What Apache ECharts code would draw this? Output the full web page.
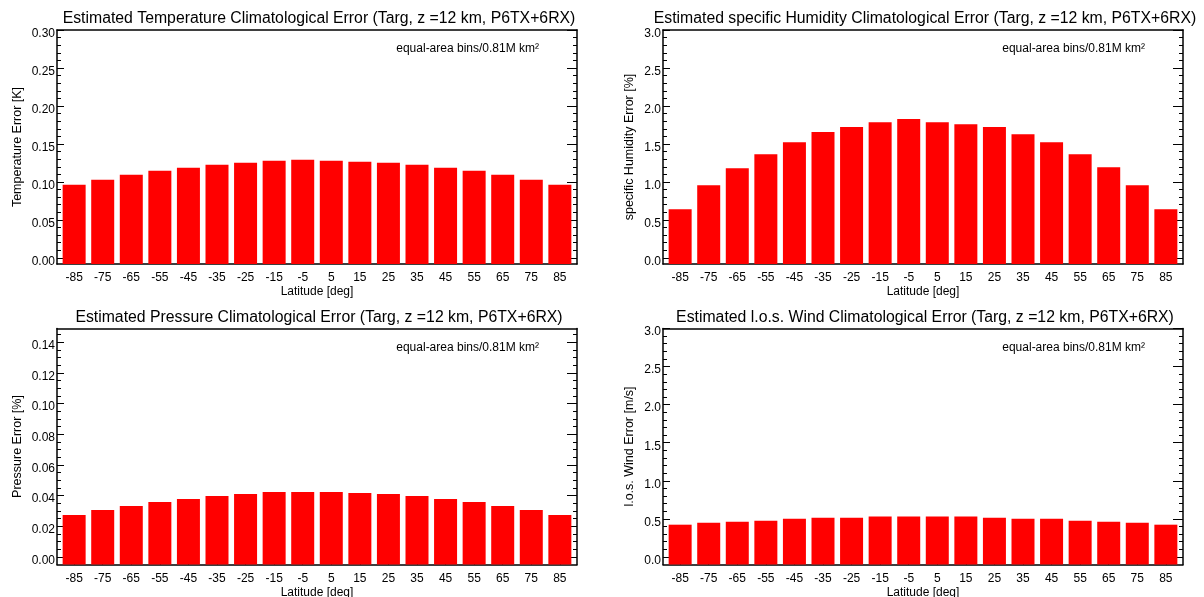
<!DOCTYPE html>
<html>
<head>
<meta charset="utf-8">
<script src="https://cdn.jsdelivr.net/npm/echarts@6/dist/echarts.min.js"></script>
<style>
  html, body { margin: 0; padding: 0; background: #ffffff; }
  #chart { width: 1204px; height: 597px; }
</style>
</head>
<body>
<div id="chart"></div>
<script>
// Latitude bin centres (deg)
const latitudes = [-85, -75, -65, -55, -45, -35, -25, -15, -5, 5, 15, 25, 35, 45, 55, 65, 75, 85];

// Climatological error per equal-area latitude bin
const temperatureError = [0.0962, 0.1028, 0.1094, 0.1147, 0.1187, 0.1226, 0.1253, 0.1279, 0.1292, 0.1279, 0.1266, 0.1253, 0.1226, 0.1187, 0.1147, 0.1094, 0.1028, 0.0962];
const humidityError    = [0.641, 0.957, 1.181, 1.366, 1.524, 1.656, 1.722, 1.787, 1.827, 1.787, 1.761, 1.722, 1.629, 1.524, 1.366, 1.195, 0.957, 0.641];
const pressureError    = [0.0273, 0.0306, 0.0332, 0.0358, 0.0378, 0.0397, 0.0410, 0.0423, 0.0423, 0.0423, 0.0417, 0.0410, 0.0397, 0.0378, 0.0358, 0.0332, 0.0306, 0.0273];
const windError        = [0.423, 0.449, 0.463, 0.476, 0.502, 0.515, 0.515, 0.529, 0.529, 0.529, 0.529, 0.515, 0.502, 0.502, 0.476, 0.463, 0.449, 0.423];

// Major tick labels of each error axis
const temperatureTicks = ['0.00', '0.05', '0.10', '0.15', '0.20', '0.25', '0.30'];
const humidityTicks    = ['0.0', '0.5', '1.0', '1.5', '2.0', '2.5', '3.0'];
const pressureTicks    = ['0.00', '0.02', '0.04', '0.06', '0.08', '0.10', '0.12', '0.14'];
const windTicks        = ['0.0', '0.5', '1.0', '1.5', '2.0', '2.5', '3.0'];

const titles = [
  'Estimated Temperature Climatological Error (Targ, z =12 km, P6TX+6RX)',
  'Estimated specific Humidity Climatological Error (Targ, z =12 km, P6TX+6RX)',
  'Estimated Pressure Climatological Error (Targ, z =12 km, P6TX+6RX)',
  'Estimated l.o.s. Wind Climatological Error (Targ, z =12 km, P6TX+6RX)'
];
const yNames = ['Temperature Error [K]', 'specific Humidity Error [%]', 'Pressure Error [%]', 'l.o.s. Wind Error [m/s]'];
const xName = 'Latitude [deg]';
const note = 'equal-area bins/0.81M km\u00B2';

const FONT = '"Liberation Sans", Arial, Helvetica, sans-serif';
const INK = '#000000';
const BAR = '#ff0000';

// Panel frames and axis extents
const panels = [
  { values: temperatureError, ticks: temperatureTicks, minorSteps: 5, min: -0.008, max: 0.30,  left: 57,  top: 30,    width: 520, height: 234, nameGap: 33 },
  { values: humidityError,    ticks: humidityTicks,    minorSteps: 5, min: -0.08,  max: 3.0,   left: 663, top: 30,    width: 520, height: 234, nameGap: 27 },
  { values: pressureError,    ticks: pressureTicks,    minorSteps: 4, min: -0.005, max: 0.149, left: 57,  top: 328.5, width: 520, height: 236, nameGap: 33 },
  { values: windError,        ticks: windTicks,        minorSteps: 5, min: -0.10,  max: 3.0,   left: 663, top: 328.5, width: 520, height: 236, nameGap: 27 }
];

function minorValues(ticks, steps, max) {
  const major = ticks.map(Number);
  const step = (major[1] - major[0]) / steps;
  const out = [];
  for (let v = 0; v <= max + 1e-9; v += step) out.push(+v.toFixed(6));
  return out;
}

const grid = [], xAxis = [], yAxis = [], series = [], title = [];
const line = { show: true, onZero: false, lineStyle: { color: INK, width: 1.5 } };
const noLine = { show: false, onZero: false };

panels.forEach((p, i) => {
  grid.push({ left: p.left, top: p.top, width: p.width, height: p.height, containLabel: false, outerBoundsMode: 'none', show: false });

  const major = p.ticks.map(Number);
  const minor = minorValues(p.ticks, p.minorSteps, p.max);
  const digits = p.ticks[0].split('.')[1].length;

  // bottom axis: latitude ticks and labels
  xAxis.push({
    gridIndex: i, type: 'value', position: 'bottom', min: -91, max: 91,
    axisLine: line,
    axisTick: { show: true, inside: true, length: 4, customValues: latitudes, lineStyle: { color: INK, width: 1 } },
    axisLabel: { customValues: latitudes, formatter: v => String(v), color: INK, fontFamily: FONT, fontSize: 12, margin: 8 },
    splitLine: { show: false },
    name: xName, nameLocation: 'middle', nameGap: 22, nameMoveOverlap: false,
    nameTextStyle: { color: INK, fontFamily: FONT, fontSize: 12 }
  });
  // top frame line
  xAxis.push({
    gridIndex: i, type: 'value', position: 'top', min: -91, max: 91,
    axisLine: line, axisTick: { show: false }, axisLabel: { show: false }, splitLine: { show: false }
  });

  const yBase = { gridIndex: i, type: 'value', min: p.min, max: p.max, splitLine: { show: false } };
  const yFirst = yAxis.length;
  // left: labels + major ticks
  yAxis.push(Object.assign({}, yBase, {
    position: 'left', startValue: p.min,
    axisLine: line,
    axisTick: { show: true, inside: true, length: 7, customValues: major, lineStyle: { color: INK, width: 1 } },
    axisLabel: { customValues: major, formatter: v => Number(v).toFixed(digits), color: INK, fontFamily: FONT, fontSize: 12, margin: 2, verticalAlign: 'top', lineHeight: 7 },
    name: yNames[i], nameLocation: 'middle', nameGap: p.nameGap, nameRotate: 90, nameMoveOverlap: false,
    nameTextStyle: { color: INK, fontFamily: FONT, fontSize: 12.5 }
  }));
  // left: minor ticks
  yAxis.push(Object.assign({}, yBase, {
    position: 'left', axisLine: noLine,
    axisTick: { show: true, inside: true, length: 4, customValues: minor, lineStyle: { color: INK, width: 1 } },
    axisLabel: { show: false }
  }));
  // right: major ticks
  yAxis.push(Object.assign({}, yBase, {
    position: 'right', axisLine: line,
    axisTick: { show: true, inside: true, length: 10, customValues: major, lineStyle: { color: INK, width: 1 } },
    axisLabel: { show: false }
  }));
  // right: minor ticks
  yAxis.push(Object.assign({}, yBase, {
    position: 'right', axisLine: noLine,
    axisTick: { show: true, inside: true, length: 4, customValues: minor, lineStyle: { color: INK, width: 1 } },
    axisLabel: { show: false }
  }));

  series.push({
    type: 'bar', xAxisIndex: 2 * i, yAxisIndex: yFirst,
    data: latitudes.map((lat, j) => [lat, p.values[j]]),
    barWidth: 23, itemStyle: { color: BAR }, silent: true, z: 1
  });

  title.push({
    text: titles[i], left: p.left + p.width / 2 - 3, top: p.top - 24, textAlign: 'center',
    textStyle: { color: INK, fontFamily: FONT, fontSize: 15.8, fontWeight: 'normal' }
  });
  title.push({
    text: note, left: p.left + p.width - 43, top: p.top + 8, textAlign: 'right',
    textStyle: { color: INK, fontFamily: FONT, fontSize: 12, fontWeight: 'normal' }
  });
});

const chart = echarts.init(document.getElementById('chart'), null, { renderer: 'canvas' });
chart.setOption({
  animation: false,
  backgroundColor: '#ffffff',
  title, grid, xAxis, yAxis, series,
  tooltip: { show: false }
});
</script>
</body>
</html>
